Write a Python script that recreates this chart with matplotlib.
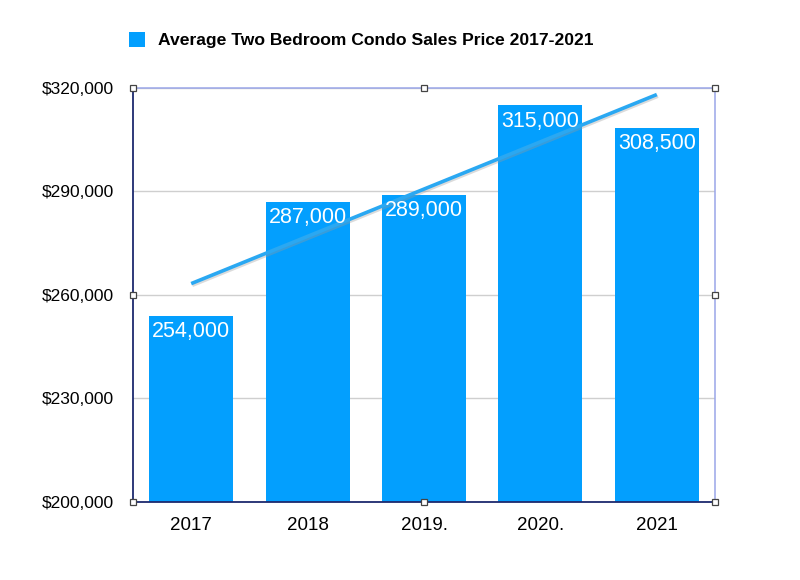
import matplotlib
matplotlib.use("Agg")
import matplotlib.pyplot as plt
import matplotlib.patheffects as pe
import numpy as np

categories = ["2017", "2018", "2019.", "2020.", "2021"]
prices = [254000, 287000, 289000, 315000, 308500]
value_labels = ["254,000", "287,000", "289,000", "315,000", "308,500"]
yticks = [200000, 230000, 260000, 290000, 320000]
ytick_labels = ["$200,000", "$230,000", "$260,000", "$290,000", "$320,000"]
series_name = "Average Two Bedroom Condo Sales Price 2017-2021"

plt.rcParams['font.family'] = ['Liberation Sans', 'DejaVu Sans']

fig = plt.figure(figsize=(8, 5.8), dpi=100)
ax = fig.add_axes([133/800, 1-502/580, 582/800, 414/580])

x = np.arange(len(categories))
bar_color = "#039ffe"
ax.bar(x, prices, width=0.72, color=bar_color, zorder=2, label=series_name)

for xi, v, lab in zip(x, prices, value_labels):
    ax.annotate(lab, (xi, v), xytext=(0, -11.5), textcoords="offset points",
                ha="center", va="center", color="white", fontsize=15.5, zorder=4)

# linear trend line
coef = np.polyfit(x, prices, 1)
trend = np.polyval(coef, x)
ax.plot([x[0], x[-1]], [trend[0], trend[-1]], color="#2aa8f2", lw=2.6, zorder=3,
        solid_capstyle="butt",
        path_effects=[pe.SimpleLineShadow(offset=(0.8, -1.2), shadow_color="#9a9a9a", alpha=0.35), pe.Normal()])

ax.set_xlim(-0.5, len(categories) - 0.5)
ax.set_ylim(yticks[0], yticks[-1])
ax.set_yticks(yticks)
ax.set_yticklabels(ytick_labels)
ax.set_xticks(x)
ax.set_xticklabels(categories)
ax.tick_params(axis="y", length=0, pad=14, labelsize=12.5)
ax.tick_params(axis="x", length=0, pad=11, labelsize=13.5)

ax.grid(axis="y", color="#cfcfcf", lw=1, zorder=1)
ax.set_axisbelow(True)

for s in ["left", "bottom"]:
    ax.spines[s].set_color("#1c2a6e")
    ax.spines[s].set_linewidth(1.3)
for s in ["top", "right"]:
    ax.spines[s].set_color("#9aa6e8")
    ax.spines[s].set_linewidth(1.1)
for sp in ax.spines.values():
    sp.set_zorder(5)

# selection handles
hx = [0, 0.5, 1, 0, 1, 0, 0.5, 1]
hy = [1, 1, 1, 0.5, 0.5, 0, 0, 0]
ax.plot(hx, hy, linestyle="none", marker="s", markersize=5, markerfacecolor="white",
        markeredgecolor="#444444", markeredgewidth=0.9, transform=ax.transAxes,
        clip_on=False, zorder=6)

leg = fig.legend(loc="upper left", bbox_to_anchor=(113/800, 1-16/580), frameon=False,
                 prop={"weight": "bold", "size": 12.6}, handlelength=0.95, handleheight=0.95,
                 handletextpad=0.7)

fig.savefig("out.png", dpi=100)
